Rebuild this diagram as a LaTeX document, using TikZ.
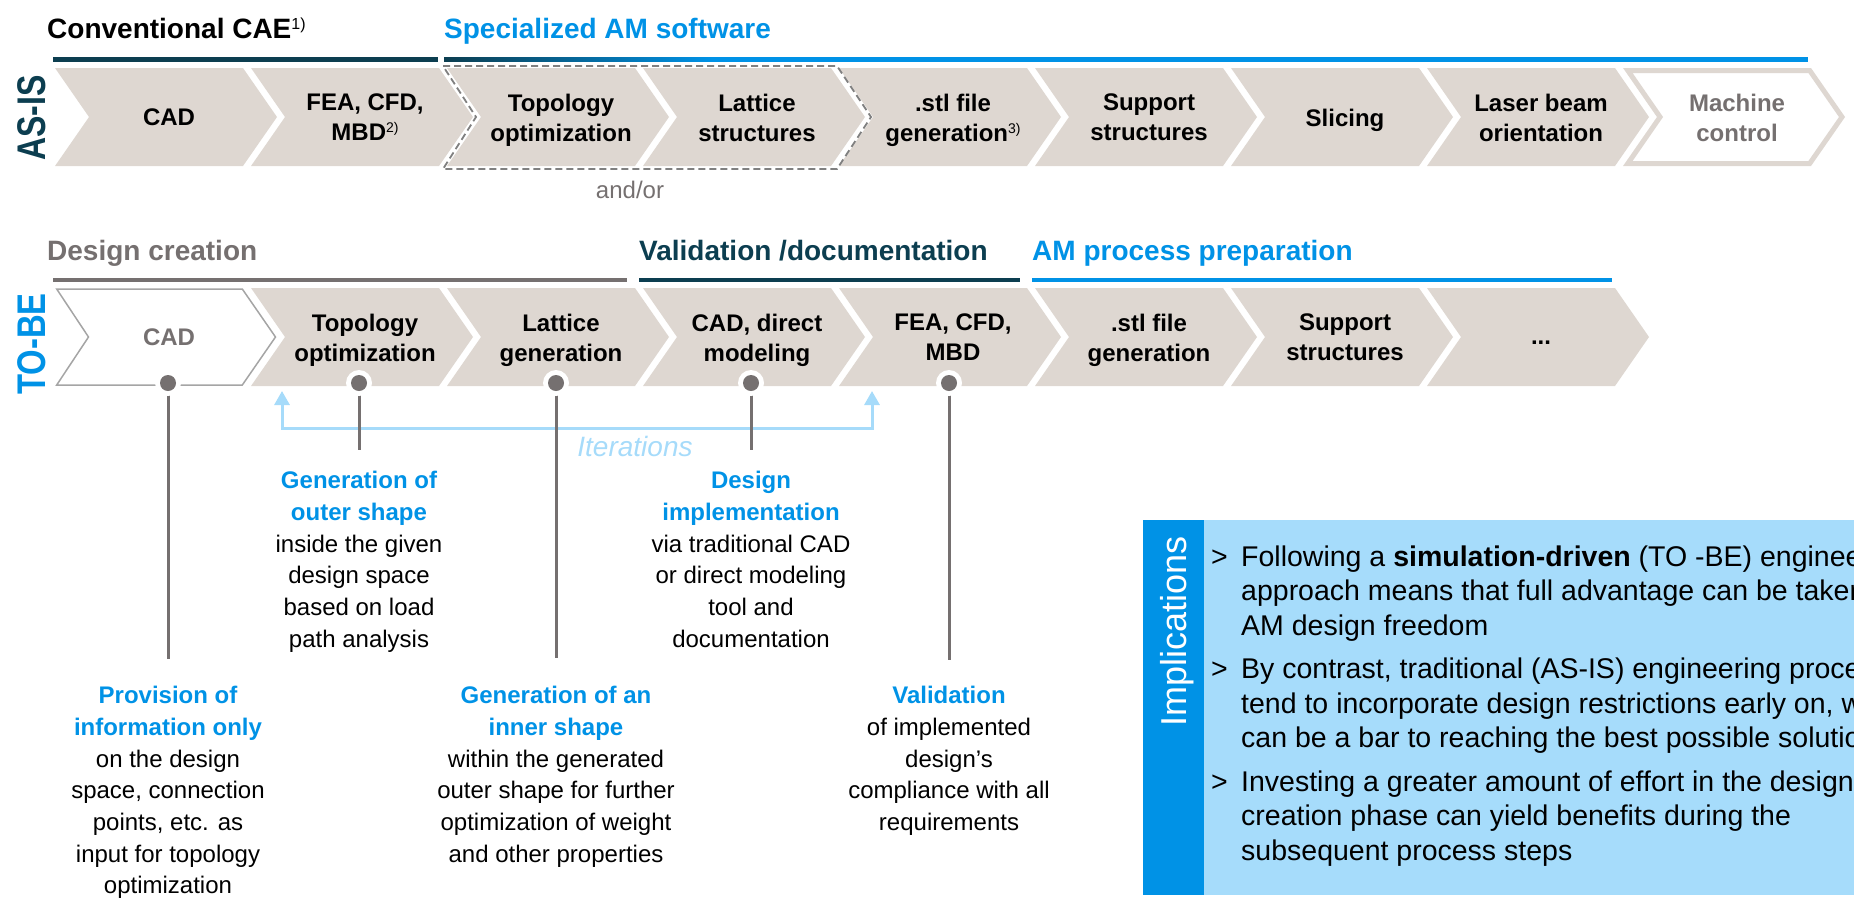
\documentclass[tikz,border=0pt]{standalone}
\usepackage{fontspec}
\usepackage{graphicx}
\setmainfont{Liberation Sans}
\usetikzlibrary{arrows.meta}
\definecolor{beige}{RGB}{222,215,209}
\definecolor{tealdk}{RGB}{12,62,80}
\definecolor{amblue}{RGB}{0,146,230}
\definecolor{ltblue}{RGB}{166,219,250}
\definecolor{boxblue}{RGB}{166,220,251}
\definecolor{grayt}{RGB}{117,112,112}
\definecolor{dashgray}{RGB}{128,128,128}
\definecolor{outl}{RGB}{165,165,165}
\newcommand\fs[2]{\fontsize{#1}{#2}\selectfont}
\newcommand\hl[1]{\textcolor{amblue}{\bfseries #1}}
\newcommand\tsup[1]{\raisebox{9pt}{\fs{16}{16}\mdseries #1}}
\newcommand\csup[1]{\raisebox{8pt}{\fs{14}{14}\mdseries #1}}
\newcommand\chevshape[3]{\path[#3] (#1,#2) -- ++(188,0) -- ++(34,49) -- ++(-34,49) -- ++(-188,0) -- ++(34,-49) -- cycle;}
\tikzset{
  chevlabel/.style={font=\bfseries\fs{24}{30}, align=center, inner sep=0pt, text=black},
  desc/.style={font=\fs{24}{31.7}, align=center, inner sep=0pt, anchor=north},
  ttl/.style={font=\bfseries\fs{28}{32}, anchor=base west, inner sep=0pt},
  conn/.style={draw=grayt, line width=3pt},
  iter/.style={draw=ltblue, line width=3pt, arrows={Triangle[width=15pt,length=14pt]-Triangle[width=15pt,length=14pt]}},
  sidetag/.style={rotate=90, font=\bfseries\fs{40}{40}, inner sep=0pt},
}
\begin{document}
\begin{tikzpicture}[x=1pt,y=-1pt]
\useasboundingbox (0,0) rectangle (1854,898);

% ---------- AS-IS row ----------
\foreach \i in {0,...,7} {\pgfmathsetmacro\xo{55+196*\i}\chevshape{\xo}{68}{fill=beige}}
\path[draw=beige, line width=5pt, fill=white, line join=miter]
  (1627.8,70.5) -- (1809.7,70.5) -- (1842,117) -- (1809.7,163.5) -- (1627.8,163.5) -- (1660,117) -- cycle;
\draw[dashgray, line width=1.8pt, dash pattern=on 7pt off 4pt]
  (443,66) -- (837,66) -- (871,117) -- (837,169) -- (443,169) -- (476,117) -- cycle;

\node[ttl] (tconv) at (47,38) {Conventional CAE\tsup{1)}};
\node[ttl, text=amblue] (tspec) at (444,38) {Specialized AM software};
\fill[tealdk] (53,57) rectangle (438,61.5);
\shade[left color=tealdk, right color=amblue] (444,57) rectangle (712,61.5);
\fill[amblue] (711.5,57) rectangle (1808,61.5);

\node[sidetag, text=tealdk] (asis) at (32,118) {\scalebox{0.8}[1]{AS-IS}};

\node[chevlabel] (a0) at (169,117.5) {CAD};
\node[chevlabel] (a1) at (365,117.5) {FEA, CFD,\\MBD\csup{2)}};
\node[chevlabel] (a2) at (561,120) {Topology\\optimization};
\node[chevlabel] (a3) at (757,117.5) {Lattice\\structures};
\node[chevlabel] (a4) at (953,120) {.stl file\\generation\csup{3)}};
\node[chevlabel] (a5) at (1149,117.5) {Support\\structures};
\node[chevlabel] (a6) at (1345,120) {Slicing};
\node[chevlabel] (a7) at (1541,117.5) {Laser beam\\orientation};
\node[chevlabel, text=grayt] (a8) at (1737,117.5) {Machine\\control};
\node[font=\fs{24}{28}, text=grayt, inner sep=0pt] (andor) at (630,190) {and/or};

% ---------- TO-BE row ----------
\path[draw=outl, line width=1.5pt, fill=white, line join=miter]
  (56.7,289) -- (242.3,289) -- (275.5,337) -- (242.3,385) -- (56.7,385) -- (88.5,337) -- cycle;
\foreach \i in {1,...,7} {\pgfmathsetmacro\xo{55+196*\i}\chevshape{\xo}{288}{fill=beige}}

\node[ttl, text=grayt] (tdes) at (47,260) {Design creation};
\node[ttl, text=tealdk] (tval) at (639,260) {Validation /documentation};
\node[ttl, text=amblue] (tamp) at (1032,260) {AM process preparation};
\fill[grayt] (53,277.5) rectangle (627,282);
\fill[tealdk] (639,277.5) rectangle (1020,282);
\fill[amblue] (1032,277.5) rectangle (1612,282);

\node[sidetag, text=amblue] (tobe) at (32,344) {\scalebox{0.82}[1]{TO-BE}};

\node[chevlabel, text=grayt] (b0) at (169,337.5) {CAD};
\node[chevlabel] (b1) at (365,340) {Topology\\optimization};
\node[chevlabel] (b2) at (561,340) {Lattice\\generation};
\node[chevlabel] (b3) at (757,340) {CAD, direct\\modeling};
\node[chevlabel] (b4) at (953,337.5) {FEA, CFD,\\MBD};
\node[chevlabel] (b5) at (1149,340) {.stl file\\generation};
\node[chevlabel] (b6) at (1345,337.5) {Support\\structures};
\node[chevlabel] (b7) at (1541,343) {...};

% ---------- iterations ----------
\coordinate (itL) at (282,391);
\coordinate (itR) at (872,391);
\draw[iter] (itL) -- ++(0,37) -| (itR);
\node[font=\itshape\fs{28}{30}, text=ltblue, inner sep=0pt] (iterlbl) at (635,446) {Iterations};

% ---------- descriptions ----------
\node[desc] (t1) at (168,686) {\hl{Provision of}\\\hl{information only}\\on the design\\space, connection\\points, etc. as\\input for topology\\optimization};
\node[desc] (t2) at (359,471) {\hl{Generation of}\\\hl{outer shape}\\inside the given\\design space\\based on load\\path analysis};
\node[desc] (t3) at (556,686) {\hl{Generation of an}\\\hl{inner shape}\\within the generated\\outer shape for further\\optimization of weight\\and other properties};
\node[desc] (t4) at (751,471) {\hl{Design}\\\hl{implementation}\\via traditional CAD\\or direct modeling\\tool and\\documentation};
\node[desc] (t5) at (949,686) {\hl{Validation}\\of implemented\\design's\\compliance with all\\requirements};

\coordinate (d1) at (168,383);
\coordinate (d2) at (359,383);
\coordinate (d3) at (556,383);
\coordinate (d4) at (751,383);
\coordinate (d5) at (949,383);
\draw[conn, shorten >=27pt] (d1) -- (t1.north);
\draw[conn, shorten >=21pt] (d2) -- (t2.north);
\draw[conn, shorten >=28pt] (d3) -- (t3.north);
\draw[conn, shorten >=21pt] (d4) -- (t4.north);
\draw[conn, shorten >=26pt] (d5) -- (t5.north);
\foreach \d in {d1,d2,d3,d4,d5} {
  \fill[white] (\d) circle[radius=13pt];
  \fill[grayt] (\d) circle[radius=8pt];
}

% ---------- implications ----------
\begin{scope}
\clip (0,0) rectangle (1854,898);
\fill[boxblue] (1143,520) rectangle (1900,895);
\fill[amblue] (1143,520) rectangle (1204,895);
\node[rotate=90, anchor=west, inner sep=0pt, text=white, font=\fs{36}{36}] (impl) at (1177,727) {Implications};
\node[anchor=north west, inner sep=0pt, align=left, font=\fs{28.5}{34.5}] (imptext) at (1211,545.3) {%
\makebox[30pt][l]{>}Following a \textbf{simulation-driven} (TO -BE) engineering\\
\hspace*{30pt}approach means that full advantage can be taken of\\
\hspace*{30pt}AM design freedom\\[9pt]
\makebox[30pt][l]{>}By contrast, traditional (AS-IS) engineering processes\\
\hspace*{30pt}tend to incorporate design restrictions early on, which\\
\hspace*{30pt}can be a bar to reaching the best possible solution\\[9pt]
\makebox[30pt][l]{>}Investing a greater amount of effort in the design\\
\hspace*{30pt}creation phase can yield benefits during the\\
\hspace*{30pt}subsequent process steps};
\end{scope}
\end{tikzpicture}
\end{document}
